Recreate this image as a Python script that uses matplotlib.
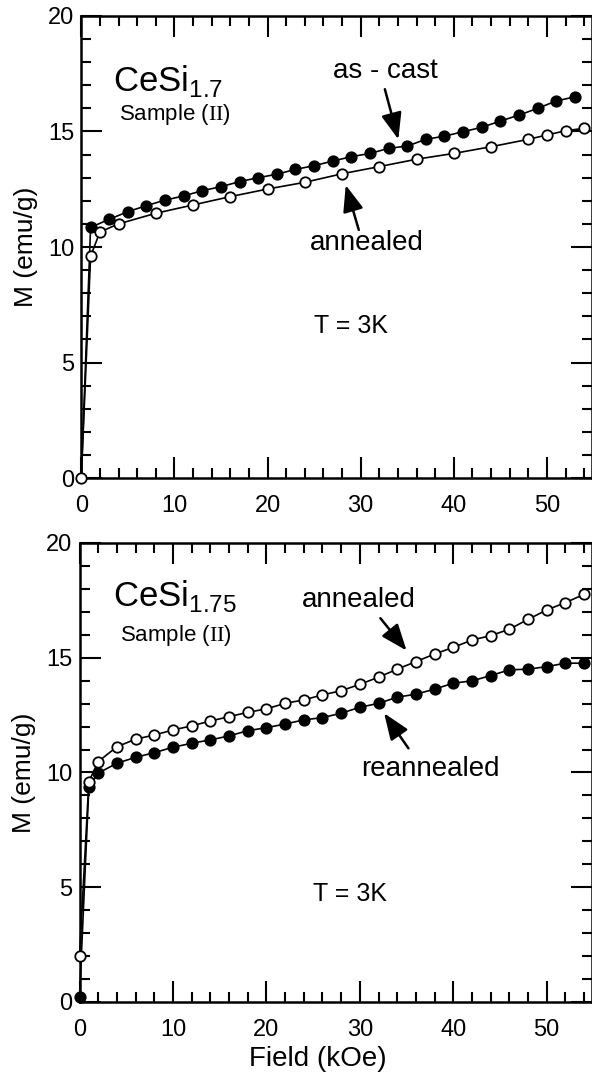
import matplotlib
matplotlib.use("Agg")
import matplotlib.pyplot as plt
from matplotlib.ticker import MultipleLocator

plt.rcParams['font.family'] = ['Liberation Sans', 'DejaVu Sans']
plt.rcParams['mathtext.fontset'] = 'custom'
plt.rcParams['mathtext.rm'] = 'Liberation Serif'

# CeSi1.7, sample (II)
top_cast_x = [0, 1, 3, 5, 7, 9, 11, 13, 15, 17, 19, 21, 23, 25, 27,
              29, 31, 33, 35, 37, 39, 41, 43, 45, 47, 49, 51, 53]
top_cast_m = [0, 10.85, 11.2, 11.53, 11.79, 12.03, 12.21, 12.44, 12.61, 12.83, 13.0,
              13.15, 13.36, 13.52, 13.72, 13.91, 14.05, 14.27, 14.37, 14.66, 14.8,
              14.99, 15.18, 15.45, 15.71, 16.0, 16.32, 16.5]
top_ann_x = [0, 1, 2, 4, 8, 12, 16, 20, 24, 28, 32, 36, 40, 44, 48, 50, 52, 54]
top_ann_m = [0, 9.6, 10.65, 11.0, 11.46, 11.82, 12.18, 12.51, 12.8, 13.17, 13.48,
             13.8, 14.05, 14.34, 14.66, 14.85, 15.03, 15.14]

# CeSi1.75, sample (II)
bot_x = [0, 1, 2, 4, 6, 8, 10, 12, 14, 16, 18, 20, 22, 24, 26, 28,
         30, 32, 34, 36, 38, 40, 42, 44, 46, 48, 50, 52, 54]
bot_ann_m = [2.0, 9.6, 10.47, 11.12, 11.45, 11.63, 11.85, 12.03, 12.24, 12.43, 12.62,
             12.77, 13.01, 13.16, 13.38, 13.56, 13.84, 14.15, 14.5, 14.83, 15.16,
             15.45, 15.77, 15.96, 16.24, 16.67, 17.08, 17.4, 17.76]
bot_rean_m = [0.2, 9.35, 9.97, 10.4, 10.66, 10.86, 11.1, 11.27, 11.42, 11.59, 11.82,
              11.95, 12.11, 12.29, 12.39, 12.58, 12.84, 13.01, 13.28, 13.41, 13.63,
              13.89, 13.99, 14.22, 14.47, 14.5, 14.61, 14.76, 14.76]

fig = plt.figure(figsize=(5.92, 10.73), dpi=100)
ax1 = fig.add_axes([0.1373, 0.5545, 0.862, 0.4306])
ax2 = fig.add_axes([0.1343, 0.0662, 0.865, 0.4278])


def series(ax, x, m, filled, marker_from=0):
    ax.plot(x, m, '-', color='black', lw=1.2, zorder=2, clip_on=False)
    ax.plot(x[marker_from:], m[marker_from:], 'o', ms=7.5, mew=1.3,
            mec='black', mfc='black' if filled else 'white',
            zorder=4 if not filled else 3, clip_on=False)


def style(ax):
    ax.set_xlim(0, 54.8)
    ax.set_ylim(0, 20)
    ax.xaxis.set_major_locator(MultipleLocator(10))
    ax.xaxis.set_minor_locator(MultipleLocator(2))
    ax.yaxis.set_major_locator(MultipleLocator(5))
    ax.yaxis.set_minor_locator(MultipleLocator(1))
    ax.tick_params(which='both', direction='in', top=True, right=True,
                   labelsize=17, width=1.5)
    ax.tick_params(which='major', length=15)
    ax.tick_params(which='minor', length=7)
    ax.tick_params(axis='x', pad=12)
    ax.tick_params(axis='y', pad=5)
    for s in ax.spines.values():
        s.set_linewidth(1.8)
    ax.set_ylabel('M (emu/g)', fontsize=19)
    ax.yaxis.set_label_coords(-0.085, 0.5)


arrow = dict(arrowstyle='-|>,head_length=0.9,head_width=0.35', color='black',
             lw=1.8, mutation_scale=18, shrinkA=0, shrinkB=0)

# top panel
series(ax1, top_cast_x, top_cast_m, True, marker_from=1)
series(ax1, top_ann_x, top_ann_m, False)
style(ax1)
ax1.text(3.4, 17.2, 'CeSi$_\\mathregular{1.7}$', fontsize=25, va='center')
ax1.text(4.1, 15.75, 'Sample ($\\mathrm{II}$)', fontsize=16, va='center')
ax1.text(32.7, 17.6, 'as - cast', fontsize=20, ha='center', va='center')
ax1.text(30.7, 10.17, 'annealed', fontsize=20, ha='center', va='center')
ax1.text(29.0, 6.6, 'T = 3K', fontsize=18, ha='center', va='center')
ax1.annotate('', xy=(34.05, 14.66), xytext=(32.6, 16.83), arrowprops=arrow)
ax1.annotate('', xy=(28.4, 12.68), xytext=(29.8, 10.74), arrowprops=arrow)

# bottom panel
series(ax2, bot_x, bot_rean_m, True)
series(ax2, bot_x, bot_ann_m, False)
style(ax2)
ax2.text(3.6, 17.7, 'CeSi$_\\mathregular{1.75}$', fontsize=25, va='center')
ax2.text(4.3, 15.95, 'Sample ($\\mathrm{II}$)', fontsize=16, va='center')
ax2.text(29.9, 17.5, 'annealed', fontsize=20, ha='center', va='center')
ax2.text(37.6, 10.15, 'reannealed', fontsize=20, ha='center', va='center')
ax2.text(29.0, 4.7, 'T = 3K', fontsize=18, ha='center', va='center')
ax2.annotate('', xy=(35.0, 15.31), xytext=(32.2, 16.72), arrowprops=arrow)
ax2.annotate('', xy=(32.6, 12.58), xytext=(35.2, 11.05), arrowprops=arrow)
ax2.set_xlabel('Field (kOe)', fontsize=20)
ax2.xaxis.set_label_coords(0.466, -0.095)

fig.savefig('out.png', dpi=100)
